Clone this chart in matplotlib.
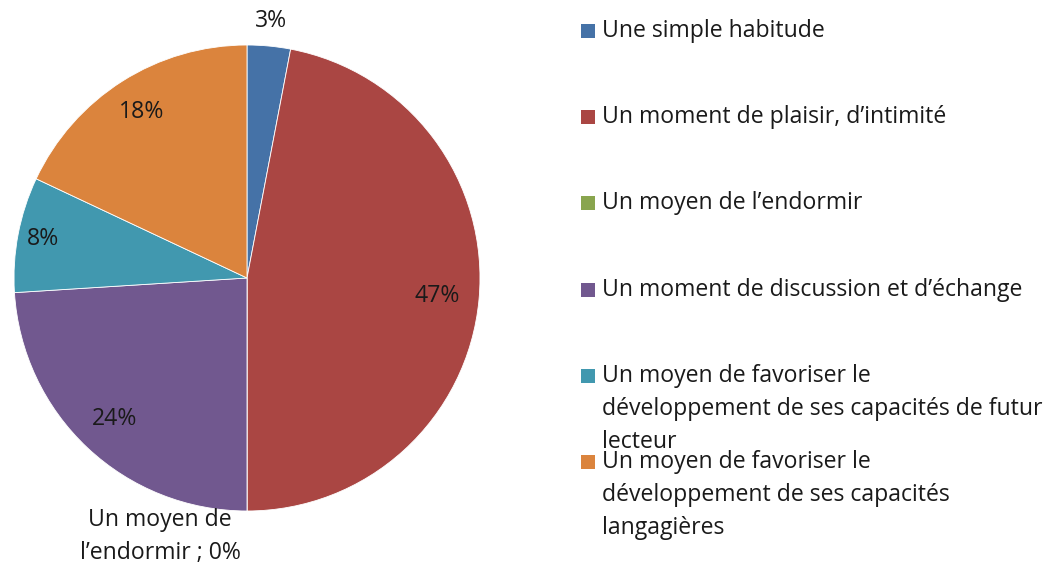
import matplotlib
matplotlib.use("Agg")
import matplotlib.pyplot as plt
from matplotlib.patches import Rectangle
import numpy as np

categories = [
    "Une simple habitude",
    "Un moment de plaisir, d\u2019intimit\u00e9",
    "Un moyen de l\u2019endormir",
    "Un moment de discussion et d\u2019\u00e9change",
    "Un moyen de favoriser le\nd\u00e9veloppement de ses capacit\u00e9s de futur\nlecteur",
    "Un moyen de favoriser le\nd\u00e9veloppement de ses capacit\u00e9s\nlangagi\u00e8res",
]
values = [3, 47, 0, 24, 8, 18]
colors = ["#4572A7", "#AA4643", "#89A54E", "#71588F", "#4198AF", "#DB843D"]

# how far from the centre each percentage sits (fraction of radius)
label_dist = [1.11, 0.82, 1.11, 0.83, 0.89, 0.845]

plt.rcParams['font.family'] = ['Open Sans', 'DejaVu Sans']
text_color = "#1a1a1a"
fs = 16.6

fig = plt.figure(figsize=(10.6, 5.66), dpi=100)
ax = fig.add_axes([0, 0, 1, 1])

cx, cy, r = 247, 288, 233
wedges, _ = ax.pie(values, colors=colors, startangle=90, counterclock=False,
                   center=(cx, cy), radius=r,
                   wedgeprops=dict(edgecolor="white", linewidth=0.6))
ax.set_xlim(0, 1060)
ax.set_ylim(0, 566)
ax.set_aspect("auto")
ax.axis("off")

for w, v, d in zip(wedges, values, label_dist):
    mid = np.deg2rad((w.theta1 + w.theta2) / 2)
    x = cx + r * d * np.cos(mid)
    y = cy + r * d * np.sin(mid)
    if v == 0:
        ax.text(x - 87, y, "Un moyen de\nl\u2019endormir ; 0%", ha="center", va="center",
                fontsize=fs, color=text_color, linespacing=1.5)
    else:
        ax.text(x, y, f"{v}%", ha="center", va="center", fontsize=fs, color=text_color)

# legend drawn by hand: entries sit on a fixed step, long labels run over the next gap
leg_y0 = 566 - 31
step = 86.2
for i, (cat, col) in enumerate(zip(categories, colors)):
    y = leg_y0 - i * step
    ax.add_patch(Rectangle((581, y - 7), 14, 14, facecolor=col, edgecolor="none"))
    ax.text(602, y + 12, cat, ha="left", va="top", fontsize=fs, color=text_color,
            linespacing=1.5)

fig.savefig("out.png", dpi=100)
